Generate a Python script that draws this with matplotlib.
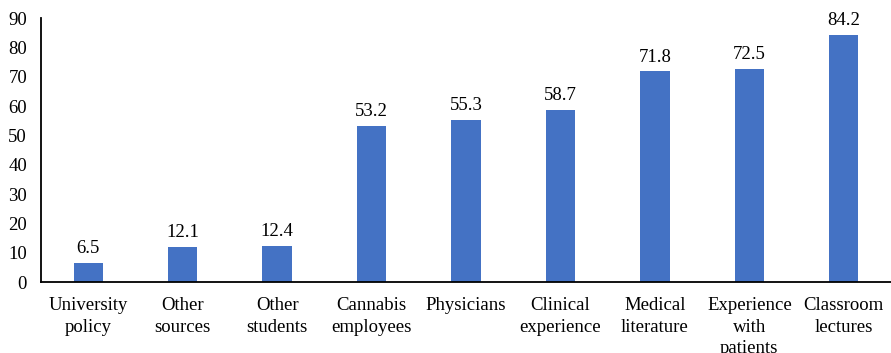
import matplotlib.pyplot as plt

# Data
categories = ["University\npolicy", "Other\nsources", "Other\nstudents", "Cannabis\nemployees",
              "Physicians", "Clinical\nexperience", "Medical\nliterature",
              "Experience\nwith\npatients", "Classroom\nlectures"]
values = [6.5, 12.1, 12.4, 53.2, 55.3, 58.7, 71.8, 72.5, 84.2]
yticks = [0, 10, 20, 30, 40, 50, 60, 70, 80, 90]

plt.rcParams["font.family"] = ["Liberation Serif", "DejaVu Serif"]

fig = plt.figure(figsize=(8.91, 3.53), dpi=100)
ax = fig.add_axes([0.046, 0.201, 0.954, 0.748])

x = range(len(values))
bars = ax.bar(x, values, width=0.31, color="#4472C4")
for xi, v in zip(x, values):
    ax.text(xi, v + 2.0, f"{v}", ha="center", va="bottom", fontsize=13.5)

ax.set_xlim(-0.5, 8.5)
ax.set_ylim(0, 90)
ax.set_yticks(yticks)
ax.set_xticks(list(x))
ax.set_xticklabels(categories, fontsize=13.5, linespacing=1.35)
ax.tick_params(axis="y", length=0, labelsize=13.5, pad=10)
ax.tick_params(axis="x", length=0, pad=11)
ax.spines["top"].set_visible(False)
ax.spines["right"].set_visible(False)
ax.spines["left"].set_linewidth(1.3)
ax.spines["bottom"].set_linewidth(1.3)

fig.savefig("out.png", dpi=100)
